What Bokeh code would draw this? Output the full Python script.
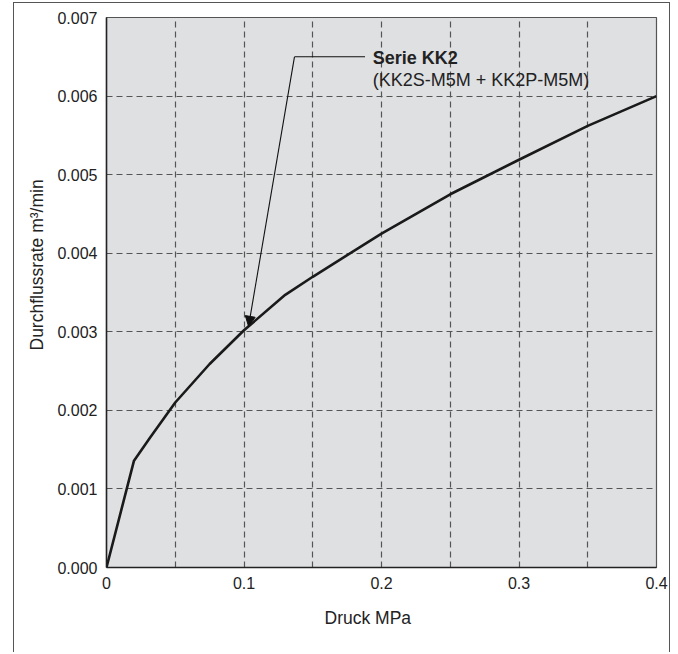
from bokeh.plotting import figure
from bokeh.models import FixedTicker, Label, Arrow, NormalHead, Range1d, Title
from bokeh.embed import file_html
from bokeh.resources import INLINE

# ---- data ----
pressure = [0.0, 0.02, 0.032, 0.05, 0.075, 0.1, 0.13, 0.15, 0.2, 0.25, 0.3, 0.35, 0.4]
flow = [0.0, 0.00136, 0.00166, 0.0021, 0.00259, 0.00302, 0.00347, 0.0037,
        0.00425, 0.00475, 0.00519, 0.00562, 0.006]
x_ticks = [0.0, 0.1, 0.2, 0.3, 0.4]
x_tick_labels = ["0", "0.1", "0.2", "0.3", "0.4"]
y_ticks = [0.0, 0.001, 0.002, 0.003, 0.004, 0.005, 0.006, 0.007]
y_tick_labels = ["0.000", "0.001", "0.002", "0.003", "0.004", "0.005", "0.006", "0.007"]
x_grid = [0.05, 0.1, 0.15, 0.2, 0.25, 0.3, 0.35]
y_grid = [0.001, 0.002, 0.003, 0.004, 0.005, 0.006]
series_name = "Serie KK2"
series_detail = "(KK2S-M5M + KK2P-M5M)"
x_title = "Druck MPa"
y_title = "Durchflussrate m\u00b3/min"

FONT = "Liberation Sans"

p = figure(width=657, height=650, output_backend="svg", toolbar_location=None,
           x_range=Range1d(0, 0.4), y_range=Range1d(0, 0.007),
           min_border_left=92, min_border_right=15, min_border_top=14, min_border_bottom=86)
p.styles = {"border": "1.5px solid #555", "border-bottom": "none",
            "margin-left": "13px", "margin-top": "2px"}

p.background_fill_color = "#dfe0e2"
p.border_fill_color = "white"
p.outline_line_color = "#555"
p.outline_line_width = 1.2

# grid
p.xgrid.ticker = FixedTicker(ticks=x_grid)
p.ygrid.ticker = FixedTicker(ticks=y_grid)
for g in (p.xgrid[0], p.ygrid[0]):
    g.grid_line_color = "#555"
    g.grid_line_dash = "6 4"
    g.grid_line_width = 1.2

# axes
p.xaxis.ticker = FixedTicker(ticks=x_ticks)
p.yaxis.ticker = FixedTicker(ticks=y_ticks)
p.xaxis.major_label_overrides = dict(zip(x_ticks, x_tick_labels))
p.yaxis.major_label_overrides = dict(zip(y_ticks, y_tick_labels))
for ax in (p.xaxis[0], p.yaxis[0]):
    ax.axis_line_color = "#222"
    ax.axis_line_width = 1.5
    ax.major_tick_line_color = None
    ax.minor_tick_line_color = None
    ax.major_tick_out = 0
    ax.major_tick_in = 0
    ax.minor_tick_out = 0
    ax.minor_tick_in = 0
    ax.major_label_text_font = FONT
    ax.major_label_text_font_size = "16px"
    ax.major_label_text_color = "#222"
    ax.major_label_standoff = 9

# curve
p.line(pressure, flow, line_color="#1a1a1a", line_width=2.6)

# annotation leader
p.add_layout(Arrow(x_start=0.1367, y_start=0.0065, x_end=0.1033, y_end=0.00307,
                   line_color="#111", line_width=1.1,
                   end=NormalHead(size=10, fill_color="#111", line_color="#111")))
p.segment(x0=[0.1367], y0=[0.0065], x1=[0.188], y1=[0.0065], line_color="#111", line_width=1.1)

p.add_layout(Label(x=0.1936, y=0.00649, text=series_name, text_font=FONT,
                   text_font_size="18px", text_font_style="bold", text_color="#222",
                   text_baseline="middle", text_align="left"))
p.add_layout(Label(x=0.1936, y=0.00621, text=series_detail, text_font=FONT,
                   text_font_size="18px", text_color="#222",
                   text_baseline="middle", text_align="left"))

# axis titles
p.add_layout(Title(text=x_title, align="left", offset=218, vertical_align="middle",
                   standoff=30, text_font=FONT, text_font_size="17.5px",
                   text_font_style="normal", text_color="#222"), "below")
p.add_layout(Title(text=y_title, align="left", offset=217, vertical_align="middle",
                   standoff=14, text_font=FONT, text_font_size="17.5px",
                   text_font_style="normal", text_color="#222"), "left")

open("out.html", "w").write(file_html(p, INLINE))
